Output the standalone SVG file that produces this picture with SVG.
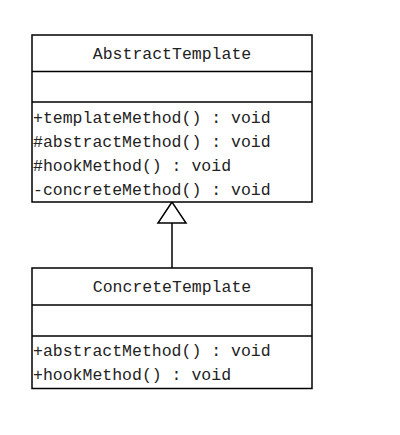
<svg xmlns="http://www.w3.org/2000/svg" width="400" height="435" viewBox="0 0 400 435">
<style>
.box{fill:#fff;stroke:#000;stroke-width:1.5}
.div{stroke:#000;stroke-width:1.5}
.t{font-family:"Liberation Mono","DejaVu Sans Mono",monospace;font-size:16.5px;fill:#222}
.c{text-anchor:middle}
</style>
<rect width="400" height="435" fill="#fff"/>
<g id="connectors">
<line x1="172" y1="223" x2="172" y2="268" stroke="#000" stroke-width="1.5"/>
<polygon points="172,202 158,223 186,223" fill="#fff" stroke="#000" stroke-width="1.5"/>
</g>
<g id="AbstractTemplate">
<rect class="box" x="32" y="35" width="280" height="167"/>
<line class="div" x1="32" y1="71.5" x2="312" y2="71.5"/>
<line class="div" x1="32" y1="102" x2="312" y2="102"/>
<text class="t c" x="172" y="59">AbstractTemplate</text>
<text class="t" x="33" y="123">+templateMethod() : void</text>
<text class="t" x="33" y="147">#abstractMethod() : void</text>
<text class="t" x="33" y="171">#hookMethod() : void</text>
<text class="t" x="33" y="195">-concreteMethod() : void</text>
</g>
<g id="ConcreteTemplate">
<rect class="box" x="32" y="268" width="280" height="120.5"/>
<line class="div" x1="32" y1="305" x2="312" y2="305"/>
<line class="div" x1="32" y1="336" x2="312" y2="336"/>
<text class="t c" x="172" y="292">ConcreteTemplate</text>
<text class="t" x="33" y="356">+abstractMethod() : void</text>
<text class="t" x="33" y="380">+hookMethod() : void</text>
</g>
</svg>
